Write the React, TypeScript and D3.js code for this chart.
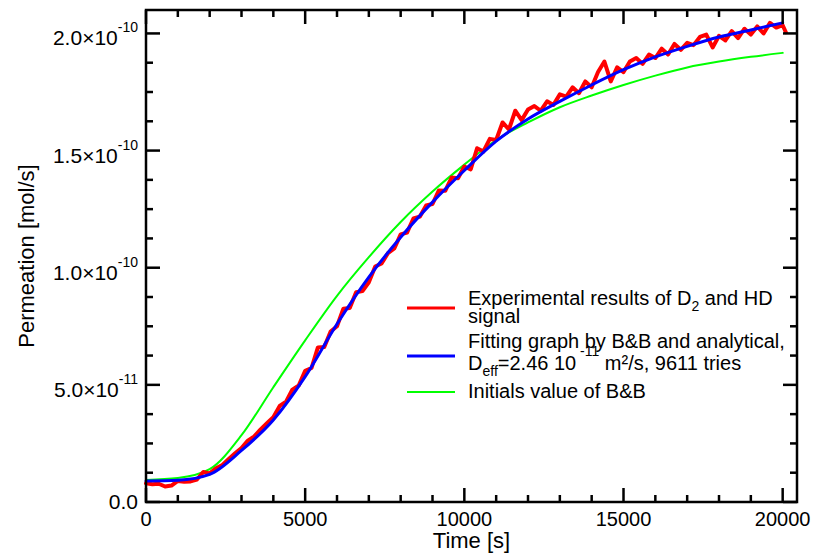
import * as d3 from 'd3'

// permeation values in units of 1e-11 mol/s
const fitTimes = [0, 1000, 2000, 3000, 4000, 5000, 6000, 7000, 8000, 9000, 10000, 11000, 12000, 13000, 14000, 15000, 16000, 17000, 18000, 19000, 20000]
const fitValues = [0.9, 0.93, 1.18, 2.2, 3.5, 5.35, 7.6, 9.6, 11.3, 12.8, 14.15, 15.4, 16.35, 17.1, 17.8, 18.45, 19.0, 19.45, 19.85, 20.15, 20.45]
const initValues = [0.94, 1.02, 1.4, 2.85, 4.9, 6.9, 8.8, 10.45, 11.95, 13.25, 14.4, 15.45, 16.2, 16.85, 17.35, 17.8, 18.2, 18.55, 18.8, 19.0, 19.17]

const expTimes = [
  0, 200, 400, 600, 800, 1000, 1200, 1400, 1600, 1800, 2000, 2200, 2400, 2600, 2800, 3000, 3200, 3400, 3600, 3800,
  4000, 4200, 4400, 4600, 4800, 5000, 5200, 5400, 5600, 5800, 6000, 6200, 6400, 6600, 6800, 7000, 7200, 7400, 7600, 7800,
  8000, 8200, 8400, 8600, 8800, 9000, 9200, 9400, 9600, 9800, 10000, 10200, 10400, 10600, 10800, 11000, 11200, 11400, 11600, 11800,
  12000, 12200, 12400, 12600, 12800, 13000, 13200, 13400, 13600, 13800, 14000, 14200, 14400, 14600, 14800, 15000, 15200, 15400, 15600, 15800,
  16000, 16200, 16400, 16600, 16800, 17000, 17200, 17400, 17600, 17800, 18000, 18200, 18400, 18600, 18800, 19000, 19200, 19400, 19600, 19800,
  20000, 20100
]
const expValues = [
  0.8, 0.76, 0.78, 0.66, 0.7, 0.9, 0.86, 0.88, 0.96, 1.28, 1.22, 1.44, 1.58, 1.84, 2.08, 2.3, 2.62, 2.8, 3.1, 3.36,
  3.62, 4.1, 4.28, 4.8, 4.98, 5.6, 5.72, 6.6, 6.62, 7.28, 7.5, 8.25, 8.28, 8.95, 9.0, 9.38, 10.05, 10.18, 10.62, 10.82,
  11.42, 11.5, 12.1, 12.18, 12.66, 12.72, 13.3, 13.28, 13.85, 13.82, 14.32, 14.2, 15.1, 14.96, 15.5, 15.45, 16.2, 15.9, 16.7, 16.3,
  16.75, 16.9, 16.7, 17.1, 16.95, 17.4, 17.3, 17.7, 17.45, 17.95, 17.7, 18.35, 18.8, 17.95, 18.55, 18.35, 18.8, 18.95, 18.7, 19.1,
  18.95, 19.35, 19.1, 19.55, 19.3, 19.6, 19.5, 19.85, 19.95, 19.4, 19.9, 19.7, 20.1, 19.8, 20.2, 19.95, 20.3, 20.0, 20.45, 20.25,
  20.35, 20.05
]

const xTicks = [0, 5000, 10000, 15000, 20000]
const yTicks = [0, 5, 10, 15, 20]
const yMantissa = ['0.0', '5.0', '1.0', '1.5', '2.0']
const yExponent = ['', '-11', '-10', '-10', '-10']

const W = 819
const H = 554
const left = 146
const right = 797
const top = 10
const bottom = 502
const font = '"Liberation Sans", Arial, Helvetica, sans-serif'

export default function App() {
  const x = d3.scaleLinear().domain([0, 20450]).range([left, right])
  const y = d3.scaleLinear().domain([0, 21]).range([bottom, top])

  const line = d3.line<[number, number]>()
    .x(d => x(d[0]))
    .y(d => y(d[1]))
  const smooth = d3.line<[number, number]>()
    .x(d => x(d[0]))
    .y(d => y(d[1]))
    .curve(d3.curveMonotoneX)

  const expData = expTimes.map((t, i) => [t, expValues[i]] as [number, number])
  const fitData = fitTimes.map((t, i) => [t, fitValues[i]] as [number, number])
  const initData = fitTimes.map((t, i) => [t, initValues[i]] as [number, number])

  const xMinor = d3.range(0, 20450, 1000).filter(v => v % 5000 !== 0)
  const yMinor = d3.range(0, 21, 1.25).filter(v => v % 5 !== 0)
  const majorLen = 14
  const minorLen = 7

  return (
    <svg width={W} height={H} style={{ position: 'absolute', left: 0, top: 0, background: '#fff' }} fontFamily={font}>
      <g fill="none" strokeLinejoin="round" strokeLinecap="round">
        <path d={smooth(initData) || ''} stroke="#00ff00" strokeWidth={2} />
        <path d={line(expData) || ''} stroke="#ff0000" strokeWidth={4} />
        <path d={smooth(fitData) || ''} stroke="#0000ff" strokeWidth={3} />
      </g>

      {/* ticks, inward on all four sides */}
      <g stroke="#000" strokeWidth={2.5}>
        {xTicks.map(v => (
          <g key={'xm' + v}>
            <line x1={x(v)} x2={x(v)} y1={bottom} y2={bottom - majorLen} />
            <line x1={x(v)} x2={x(v)} y1={top} y2={top + majorLen} />
          </g>
        ))}
        {xMinor.map(v => (
          <g key={'xn' + v}>
            <line x1={x(v)} x2={x(v)} y1={bottom} y2={bottom - minorLen} />
            <line x1={x(v)} x2={x(v)} y1={top} y2={top + minorLen} />
          </g>
        ))}
        {yTicks.map(v => (
          <g key={'ym' + v}>
            <line x1={left} x2={left + majorLen} y1={y(v)} y2={y(v)} />
            <line x1={right} x2={right - majorLen} y1={y(v)} y2={y(v)} />
          </g>
        ))}
        {yMinor.map(v => (
          <g key={'yn' + v}>
            <line x1={left} x2={left + minorLen} y1={y(v)} y2={y(v)} />
            <line x1={right} x2={right - minorLen} y1={y(v)} y2={y(v)} />
          </g>
        ))}
        <rect x={left} y={top} width={right - left} height={bottom - top} fill="none" />
      </g>

      <g fill="#000">
        {xTicks.map(v => (
          <text key={'xl' + v} x={x(v)} y={526} textAnchor="middle" fontSize={20}>{v}</text>
        ))}
        {yTicks.map((v, i) => (
          <text key={'yl' + v} x={138} y={y(v) + (yExponent[i] ? 12 : 7)} textAnchor="end" fontSize={21}>
            {yMantissa[i]}
            {yExponent[i] && <tspan>{'\u00d710'}</tspan>}
            {yExponent[i] && <tspan dy={-13} fontSize={14}>{yExponent[i]}</tspan>}
          </text>
        ))}
      </g>

      <text x={(left + right) / 2} y={548} textAnchor="middle" fontSize={22}>Time [s]</text>
      <text transform={`translate(34, ${(top + bottom) / 2}) rotate(-90)`} textAnchor="middle" fontSize={22}>Permeation [mol/s]</text>

      {/* legend */}
      <g fontSize={20} fill="#000">
        <line x1={407} x2={455} y1={308} y2={308} stroke="#ff0000" strokeWidth={3} />
        <text x={468} y={305}>Experimental results of D<tspan dy={6} fontSize={14}>2</tspan><tspan dy={-6}> and HD</tspan></text>
        <text x={468} y={323}>signal</text>
        <line x1={407} x2={455} y1={356} y2={356} stroke="#0000ff" strokeWidth={3} />
        <text x={468} y={348}>Fitting graph by B&amp;B and analytical,</text>
        <text x={468} y={370}>
          D<tspan dy={6} fontSize={14}>eff</tspan>
          <tspan dy={-6}>=2.46 10</tspan>
          <tspan dy={-14} fontSize={14}> -11</tspan>
          <tspan dy={14}> m²/s, 9611 tries</tspan>
        </text>
        <line x1={407} x2={455} y1={392} y2={392} stroke="#00ff00" strokeWidth={2} />
        <text x={468} y={398}>Initials value of B&amp;B</text>
      </g>
    </svg>
  )
}
